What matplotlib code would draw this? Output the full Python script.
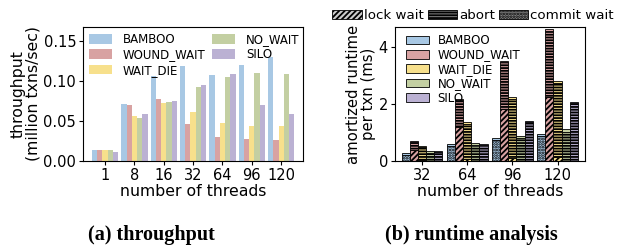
import matplotlib
matplotlib.use("Agg")
import matplotlib.pyplot as plt
from matplotlib.patches import Patch
import numpy as np

plt.rcParams['font.family'] = ['DejaVu Sans']
plt.rcParams['hatch.linewidth'] = 1.3

# ---------------- data ----------------
schemes = ["BAMBOO", "WOUND_WAIT", "WAIT_DIE", "NO_WAIT", "SILO"]
colors = ["#a8c8e4", "#d8a2a2", "#f7e08c", "#c3cfa2", "#bbb1d3"]

thr_threads = ["1", "8", "16", "32", "64", "96", "120"]
thr_bamboo = [0.0134, 0.071, 0.106, 0.119, 0.107, 0.120, 0.130]
thr_wound_wait = [0.0134, 0.070, 0.0775, 0.046, 0.030, 0.027, 0.026]
thr_wait_die = [0.0134, 0.056, 0.0725, 0.061, 0.047, 0.044, 0.044]
thr_no_wait = [0.0134, 0.0535, 0.0735, 0.093, 0.105, 0.110, 0.109]
thr_silo = [0.011, 0.0585, 0.075, 0.095, 0.109, 0.070, 0.059]

rt_threads = ["32", "64", "96", "120"]
# total amortized runtime per txn (ms)
rt_total = {
    "BAMBOO": [0.27, 0.59, 0.82, 0.94],
    "WOUND_WAIT": [0.70, 2.18, 3.52, 4.62],
    "WAIT_DIE": [0.53, 1.37, 2.25, 2.81],
    "NO_WAIT": [0.34, 0.62, 0.88, 1.11],
    "SILO": [0.34, 0.59, 1.40, 2.07],
}
rt_lock_wait = {
    "BAMBOO": [0.0, 0.0, 0.0, 0.0],
    "WOUND_WAIT": [0.40, 1.20, 1.82, 2.25],
    "WAIT_DIE": [0.02, 0.06, 0.10, 0.14],
    "NO_WAIT": [0.0, 0.0, 0.0, 0.0],
    "SILO": [0.0, 0.0, 0.0, 0.0],
}
rt_commit_wait = {
    "BAMBOO": [0.20, 0.53, 0.72, 0.86],
    "WOUND_WAIT": [0.0, 0.0, 0.0, 0.0],
    "WAIT_DIE": [0.0, 0.0, 0.0, 0.0],
    "NO_WAIT": [0.0, 0.0, 0.0, 0.0],
    "SILO": [0.0, 0.0, 0.0, 0.0],
}
rt_abort = {
    "BAMBOO": [0.02, 0.01, 0.02, 0.02],
    "WOUND_WAIT": [0.27, 0.94, 1.65, 2.32],
    "WAIT_DIE": [0.46, 1.25, 2.08, 2.60],
    "NO_WAIT": [0.28, 0.56, 0.80, 1.03],
    "SILO": [0.31, 0.56, 1.36, 2.02],
}

# ---------------- figure ----------------
fig = plt.figure(figsize=(6.2, 2.46), dpi=100)
ax1 = fig.add_axes([0.134, 0.3455, 0.355, 0.545])
ax2 = fig.add_axes([0.637, 0.3455, 0.306, 0.545])

fs_tick = 10.5
fs_label = 11.3
fs_leg = 8.5
w = 0.18

# (a) throughput
thr_series = [thr_bamboo, thr_wound_wait, thr_wait_die, thr_no_wait, thr_silo]
x1 = np.arange(len(thr_threads))
for i, (name, vals) in enumerate(zip(schemes, thr_series)):
    ax1.bar(x1 + (i - 2) * w, vals, w, color=colors[i], label=name)
ax1.set_xticks(x1)
ax1.set_xticklabels(thr_threads, fontsize=fs_tick)
ax1.set_xlim(-0.75, len(thr_threads) - 0.25)
ax1.set_ylim(0, 0.1675)
ax1.set_yticks([0, 0.05, 0.10, 0.15])
ax1.set_yticklabels(["0.00", "0.05", "0.10", "0.15"], fontsize=fs_tick)
ax1.set_xlabel("number of threads", fontsize=fs_label, labelpad=1)
ax1.set_ylabel("throughput\n(million txns/sec)", fontsize=fs_label, labelpad=2, linespacing=1.0)
ax1.legend(ncol=2, loc="upper left", frameon=False, fontsize=fs_leg,
           handlelength=1.95, handleheight=0.9, columnspacing=0.6, labelspacing=0.2,
           borderaxespad=0.1, handletextpad=0.9)
ax1.tick_params(length=3, pad=2)

# (b) runtime analysis
x2 = np.arange(len(rt_threads))
for i, name in enumerate(schemes):
    xs = x2 + (i - 2) * w
    lw = np.array(rt_lock_wait[name])
    cw = np.array(rt_commit_wait[name])
    ab = np.array(rt_abort[name])
    tot = np.array(rt_total[name])
    other = np.clip(tot - lw - cw - ab, 0, None)
    bottom = np.zeros(len(x2))
    ax2.bar(xs, lw, w, bottom=bottom, color=colors[i], edgecolor="black",
            hatch="//////", linewidth=0.6)
    bottom = bottom + lw
    ax2.bar(xs, cw, w, bottom=bottom, color=colors[i], edgecolor="black",
            hatch="......", linewidth=0.6)
    bottom = bottom + cw
    ax2.bar(xs, ab, w, bottom=bottom, color=colors[i], edgecolor="black",
            hatch="------", linewidth=0.6)
    bottom = bottom + ab
    ax2.bar(xs, other, w, bottom=bottom, color=colors[i], edgecolor="black",
            linewidth=0.6)
ax2.set_xticks(x2)
ax2.set_xticklabels(rt_threads, fontsize=fs_tick)
ax2.set_xlim(-0.6, len(rt_threads) - 0.4)
ax2.set_ylim(0, 4.7)
ax2.set_yticks([0, 2, 4])
ax2.set_yticklabels(["0", "2", "4"], fontsize=fs_tick)
ax2.set_xlabel("number of threads", fontsize=fs_label, labelpad=1)
ax2.set_ylabel("amortized runtime\nper txn (ms)", fontsize=10.7, labelpad=2, linespacing=1.0)
ax2.tick_params(length=3, pad=2)

scheme_handles = [Patch(facecolor=c, edgecolor="black", linewidth=0.6) for c in colors]
ax2.legend(scheme_handles, schemes, loc="upper left", frameon=False, fontsize=fs_leg,
           handlelength=2.0, handleheight=0.75, labelspacing=0.12,
           borderaxespad=0.2, handletextpad=0.7, bbox_to_anchor=(0.02, 1.0))

hatch_handles = [
    Patch(facecolor="#cccccc", edgecolor="black", hatch="//////", linewidth=0.6),
    Patch(facecolor="#888888", edgecolor="black", hatch="------", linewidth=0.6),
    Patch(facecolor="#888888", edgecolor="black", hatch="......", linewidth=0.6),
]
fig.legend(hatch_handles, ["lock wait", "abort", "commit wait"], ncol=3,
           loc="center", bbox_to_anchor=(0.763, 0.937), frameon=False,
           fontsize=9.6, handlelength=2.2, handleheight=0.6, columnspacing=0.3,
           handletextpad=0.15, borderaxespad=0)

fig.text(0.245, 0.045, "(a) throughput", ha="center", va="center",
         fontsize=14.5, fontweight="bold", family="Liberation Serif")
fig.text(0.76, 0.045, "(b) runtime analysis", ha="center", va="center",
         fontsize=14.5, fontweight="bold", family="Liberation Serif")

fig.savefig("out.png", dpi=100)
